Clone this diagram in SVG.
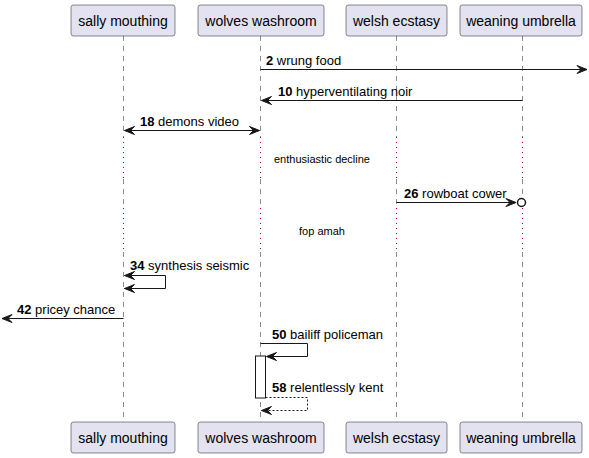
<svg xmlns="http://www.w3.org/2000/svg" width="589" height="458" viewBox="0 0 589 458">
<style>
.box{fill:#E2E2F0;stroke:#181818;stroke-width:0.5}
.pt{font-family:"Liberation Sans",Arial,sans-serif;font-size:14px;fill:#000;text-anchor:middle}
.life{stroke:#181818;stroke-width:0.5;stroke-dasharray:5,5;fill:none}
.delay{stroke:#A80036;stroke-width:1;stroke-dasharray:1,4;fill:none}
.msg{stroke:#181818;stroke-width:1;fill:none}
.dash{stroke:#181818;stroke-width:1;stroke-dasharray:2,2;fill:none}
.ah{fill:#181818;stroke:#181818;stroke-width:1}
.ml{font-family:"Liberation Sans",Arial,sans-serif;font-size:13px;fill:#000}
.dl{font-family:"Liberation Sans",Arial,sans-serif;font-size:11px;fill:#000;text-anchor:middle}
.act{fill:#FFFFFF;stroke:#181818;stroke-width:1}
</style>
<g id="lifelines">
<path class="life" d="M123.5,36V137M123.5,179V208M123.5,252V422"/>
<path class="life" d="M260.5,36V137M260.5,179V208M260.5,252V422"/>
<path class="life" d="M396.5,36V137M396.5,179V208M396.5,252V422"/>
<path class="life" d="M522.5,36V137M522.5,179V208M522.5,252V422"/>
<path class="delay" d="M123.5,137V179M123.5,208V252"/>
<path class="delay" d="M260.5,137V179M260.5,208V252"/>
<path class="delay" d="M396.5,137V179M396.5,208V252"/>
<path class="delay" d="M522.5,137V179M522.5,208V252"/>
</g>
<g id="sally-mouthing">
<rect class="box" x="71" y="5" width="104" height="31" rx="2.5"/>
<text class="pt" x="123" y="25.5">sally mouthing</text>
<rect class="box" x="71" y="422" width="104" height="31" rx="2.5"/>
<text class="pt" x="123" y="442.5">sally mouthing</text>
</g>
<g id="wolves-washroom">
<rect class="box" x="198" y="5" width="126" height="31" rx="2.5"/>
<text class="pt" x="261" y="25.5">wolves washroom</text>
<rect class="box" x="198" y="422" width="126" height="31" rx="2.5"/>
<text class="pt" x="261" y="442.5">wolves washroom</text>
<rect class="act" x="255.5" y="356" width="10" height="42"/>
</g>
<g id="welsh-ecstasy">
<rect class="box" x="346" y="5" width="101" height="31" rx="2.5"/>
<text class="pt" x="396.5" y="25.5">welsh ecstasy</text>
<rect class="box" x="346" y="422" width="101" height="31" rx="2.5"/>
<text class="pt" x="396.5" y="442.5">welsh ecstasy</text>
</g>
<g id="weaning-umbrella">
<rect class="box" x="460" y="5" width="122" height="31" rx="2.5"/>
<text class="pt" x="521" y="25.5">weaning umbrella</text>
<rect class="box" x="460" y="422" width="122" height="31" rx="2.5"/>
<text class="pt" x="521" y="442.5">weaning umbrella</text>
</g>
<g id="connectors">
<!-- 2 -->
<line class="msg" x1="260.5" y1="69.5" x2="587" y2="69.5"/>
<polygon class="ah" points="587,69.5 577,65.5 581,69.5 577,73.5"/>
<text class="ml" x="266" y="65"><tspan font-weight="bold">2</tspan> wrung food</text>
<!-- 10 -->
<line class="msg" x1="522.5" y1="100.5" x2="261.5" y2="100.5"/>
<polygon class="ah" points="261.5,100.5 271.5,96.5 267.5,100.5 271.5,104.5"/>
<text class="ml" x="278" y="96"><tspan font-weight="bold">10</tspan> hyperventilating noir</text>
<!-- 18 -->
<line class="msg" x1="124.5" y1="130.5" x2="259.5" y2="130.5"/>
<polygon class="ah" points="124.5,130.5 134.5,126.5 130.5,130.5 134.5,134.5"/>
<polygon class="ah" points="259.5,130.5 249.5,126.5 253.5,130.5 249.5,134.5"/>
<text class="ml" x="140" y="126"><tspan font-weight="bold">18</tspan> demons video</text>
<!-- delay 1 -->
<text class="dl" x="322" y="163">enthusiastic decline</text>
<!-- 26 -->
<line class="msg" x1="396.5" y1="202.5" x2="516" y2="202.5"/>
<polygon class="ah" points="516,202.5 506,198.5 510,202.5 506,206.5"/>
<circle cx="521.5" cy="202.5" r="4" fill="#FFFFFF" stroke="#181818" stroke-width="1.5"/>
<text class="ml" x="404" y="198"><tspan font-weight="bold">26</tspan> rowboat cower</text>
<!-- delay 2 -->
<text class="dl" x="322" y="235">fop amah</text>
<!-- 34 -->
<polyline class="msg" points="124.5,275.5 165.5,275.5 165.5,288.5 124.5,288.5"/>
<polygon class="ah" points="124.5,275.5 134.5,271.5 130.5,275.5 134.5,279.5"/>
<polygon class="ah" points="124.5,288.5 134.5,284.5 130.5,288.5 134.5,292.5"/>
<text class="ml" x="130" y="270"><tspan font-weight="bold">34</tspan> synthesis seismic</text>
<!-- 42 -->
<line class="msg" x1="123.5" y1="318.5" x2="2" y2="318.5"/>
<polygon class="ah" points="2,318.5 12,314.5 8,318.5 12,322.5"/>
<text class="ml" x="17" y="314"><tspan font-weight="bold">42</tspan> pricey chance</text>
<!-- 50 -->
<polyline class="msg" points="260.5,343.5 307.5,343.5 307.5,356.5 266.5,356.5"/>
<polygon class="ah" points="266.5,356.5 276.5,352.5 272.5,356.5 276.5,360.5"/>
<text class="ml" x="272" y="339"><tspan font-weight="bold">50</tspan> bailiff policeman</text>
<!-- 58 -->
<polyline class="dash" points="265.5,397.5 307.5,397.5 307.5,410.5 261.5,410.5"/>
<polygon class="ah" points="261.5,410.5 271.5,406.5 267.5,410.5 271.5,414.5"/>
<text class="ml" x="272" y="392"><tspan font-weight="bold">58</tspan> relentlessly kent</text>
</g>
</svg>
